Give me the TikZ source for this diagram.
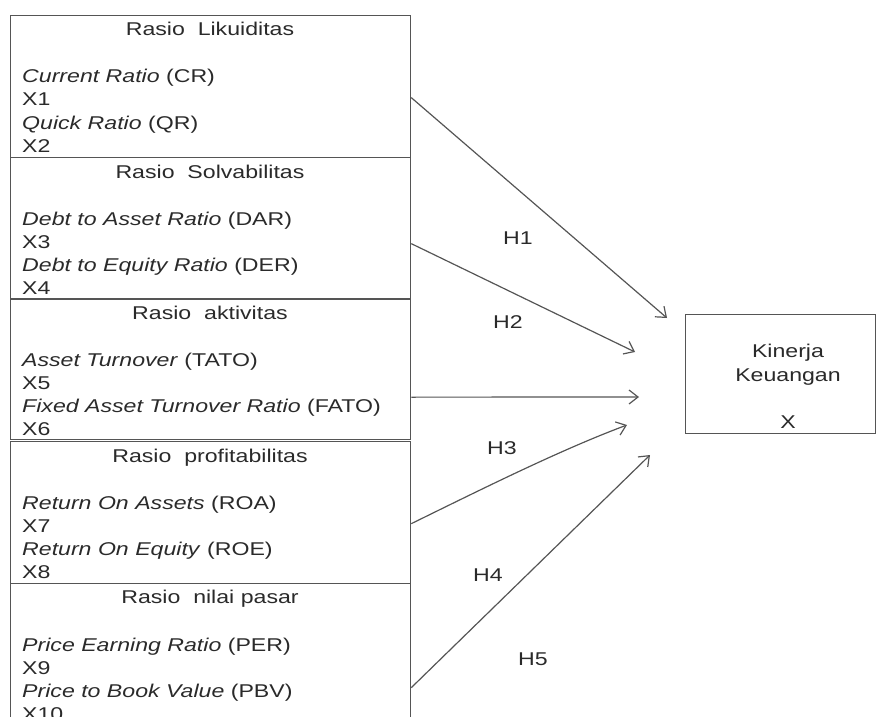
\documentclass[tikz,border=0pt]{standalone}
\usepackage{fontspec}
\usepackage{graphicx}
\setmainfont{Liberation Sans}
\usetikzlibrary{arrows.meta}
\definecolor{ink}{HTML}{2A2A2A}
\definecolor{edge}{HTML}{555555}
\newcommand{\hstr}[1]{\scalebox{1.25}[1]{#1}}
\tikzset{
  sect/.style={draw=edge, line width=1.3pt, rectangle, minimum width=400pt, minimum height=142pt, anchor=north west, inner sep=0pt},
  txt/.style={text=ink, inner sep=0pt, font=\fontsize{18.5}{22}\selectfont},
  ttl/.style={txt, anchor=base},
  ln/.style={txt, anchor=base west},
  hl/.style={txt, anchor=base},
  arr/.style={draw=edge, line width=1.2pt, -{Straight Barb[length=9pt,width=14pt,line width=1.2pt]}},
}
\begin{document}
\begin{tikzpicture}[x=1pt,y=-1pt]
\useasboundingbox (0,0) rectangle (876,717);
% left sections
\node[sect] (s1) at (10,15) {};
\node[sect] (s2) at (10,157) {};
\node[sect, minimum height=141pt] (s3) at (10,298) {};
\node[sect] (s4) at (10,441) {};
\node[sect, minimum height=160pt] (s5) at (10,583) {};
% section 1
\node[ttl] (t1) at (210,36) {\hstr{Rasio\ \ Likuiditas}};
\node[ln] (a1) at (22,83) {\hstr{\textit{Current Ratio} (CR)}};
\node[ln] (b1) at (22,106) {\hstr{X1}};
\node[ln] (c1) at (22,129) {\hstr{\textit{Quick Ratio} (QR)}};
\node[ln] (d1) at (22,152) {\hstr{X2}};
% section 2
\node[ttl] (t2) at (210,178) {\hstr{Rasio\ \ Solvabilitas}};
\node[ln] (a2) at (22,225) {\hstr{\textit{Debt to Asset Ratio} (DAR)}};
\node[ln] (b2) at (22,248) {\hstr{X3}};
\node[ln] (c2) at (22,271) {\hstr{\textit{Debt to Equity Ratio} (DER)}};
\node[ln] (d2) at (22,294) {\hstr{X4}};
% section 3
\node[ttl] (t3) at (210,319) {\hstr{Rasio\ \ aktivitas}};
\node[ln] (a3) at (22,366) {\hstr{\textit{Asset Turnover} (TATO)}};
\node[ln] (b3) at (22,389) {\hstr{X5}};
\node[ln] (c3) at (22,412) {\hstr{\textit{Fixed Asset Turnover Ratio} (FATO)}};
\node[ln] (d3) at (22,435) {\hstr{X6}};
% section 4
\node[ttl] (t4) at (210,462) {\hstr{Rasio\ \ profitabilitas}};
\node[ln] (a4) at (22,509) {\hstr{\textit{Return On Assets} (ROA)}};
\node[ln] (b4) at (22,532) {\hstr{X7}};
\node[ln] (c4) at (22,555) {\hstr{\textit{Return On Equity} (ROE)}};
\node[ln] (d4) at (22,578) {\hstr{X8}};
% section 5
\node[ttl] (t5) at (210,603) {\hstr{Rasio\ \ nilai pasar}};
\node[ln] (a5) at (22,651) {\hstr{\textit{Price Earning Ratio} (PER)}};
\node[ln] (b5) at (22,674) {\hstr{X9}};
\node[ln] (c5) at (22,697) {\hstr{\textit{Price to Book Value} (PBV)}};
\node[ln] (d5) at (22,720) {\hstr{X10}};
% target box
\node[draw=edge, line width=1.3pt, rectangle, minimum width=190pt, minimum height=119pt, anchor=north west, inner sep=0pt] (k) at (685,314) {};
\node[hl] (k1) at (788,357) {\hstr{Kinerja}};
\node[hl] (k2) at (788,381) {\hstr{Keuangan}};
\node[hl] (k3) at (788,428) {\hstr{X}};
% arrow endpoints
\coordinate (e1) at (667,318);
\coordinate (e2) at (635,352);
\coordinate (e3) at (639,397);
\coordinate (e4) at (627,425);
\coordinate (e5) at (650,455);
\draw[arr] ([yshift=-11pt]s1.east) -- (e1);
\draw[arr] ([yshift=-15pt]s2.east) -- (e2);
\draw[arr] ([yshift=-28pt]s3.east) -- (e3);
\draw[arr] ([yshift=-11pt]s4.east) .. controls (480,490) and (560,450) .. (e4);
\draw[arr] ([yshift=-24pt]s5.east) -- (e5);
% hypothesis labels
\node[hl] (h1) at (518,244) {\hstr{H1}};
\node[hl] (h2) at (508,328) {\hstr{H2}};
\node[hl] (h3) at (502,454) {\hstr{H3}};
\node[hl] (h4) at (488,581) {\hstr{H4}};
\node[hl] (h5) at (533,665) {\hstr{H5}};
\end{tikzpicture}
\end{document}
